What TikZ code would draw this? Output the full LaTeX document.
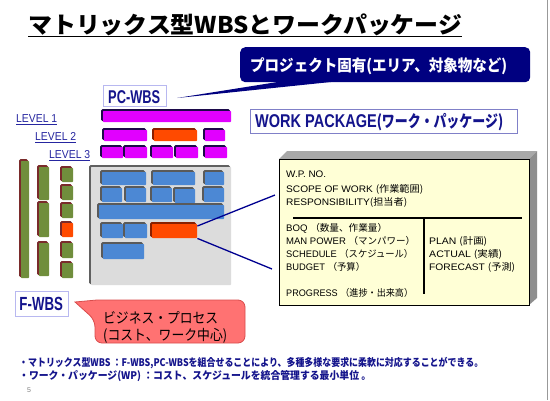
\documentclass[tikz,border=0pt]{standalone}
\usepackage{fontspec}
\usepackage{graphicx}
\setmainfont{Liberation Sans}
\newfontfamily\jpfont{Noto Sans CJK JP}
\newcommand\J[1]{{\jpfont #1}}
\newcommand\fs[1]{\fontsize{#1}{#1}\selectfont}
\newcommand\fitw[2]{\resizebox{#1}{\height}{#2}}
\definecolor{cnavy}{HTML}{000080}
\definecolor{tnavy}{HTML}{14148C}
\definecolor{lnavy}{HTML}{2626A0}
\definecolor{lbord}{HTML}{B8B8F0}
\definecolor{wpbord}{HTML}{8080C8}
\definecolor{mag}{HTML}{E100FF}
\definecolor{magsh}{HTML}{1C0A4A}
\definecolor{org}{HTML}{FF4A00}
\definecolor{orgsh}{HTML}{8A2000}
\definecolor{blu}{HTML}{4C88D4}
\definecolor{blush}{HTML}{5A5A5A}
\definecolor{grn}{HTML}{708E3C}
\definecolor{grnsh}{HTML}{7A2B2B}
\definecolor{panel}{HTML}{DCDCDC}
\definecolor{dgray}{HTML}{606060}
\definecolor{wpyellow}{HTML}{FFFFD6}
\definecolor{topgray}{HTML}{A8A8A8}
\definecolor{sidegray}{HTML}{8E8E8E}
\definecolor{cred}{HTML}{FF7272}
\definecolor{credb}{HTML}{D94C4C}
\definecolor{connavy}{HTML}{000090}
\newcommand\blk[6]{\fill[#2,rounded corners=1.5pt] (#3-2,#4-2) rectangle (#5-1,#6-1);\fill[#1,rounded corners=0.6pt] (#3,#4) rectangle (#5,#6);}
\begin{document}
\begin{tikzpicture}[x=1pt,y=-1pt,
  txt/.style={inner sep=0pt, anchor=base west},
  lbox/.style={draw=lbord, fill=white, line width=0.8pt, inner sep=0pt, anchor=north west}]
\useasboundingbox (0,0) rectangle (550,400);
\fill[white] (0,0) rectangle (550,400);
\draw[gray!80, line width=1pt] (547.5,0) -- (547.5,400);

% title
\node[txt] (title) at (28,33) {\jpfont\bfseries\fs{23}\fitw{434pt}{マトリックス型WBSとワークパッケージ}};
\draw[line width=1.4pt] ([yshift=-3.5pt]title.base west) -- ([yshift=-3.5pt]title.base east);

% blue callout
\fill[cnavy] (290,80) -- (177,98) -- (350,80) -- cycle;
\node[fill=cnavy, rounded corners=5pt, minimum width=290pt, minimum height=35pt, inner sep=0pt, anchor=north west] (pcnote) at (240,47) {};
\node[txt, text=white] (pcnotet) at (250,71) {\jpfont\bfseries\fs{16}\fitw{257pt}{プロジェクト固有(エリア、対象物など)}};

% PC-WBS
\node[lbox, minimum width=63pt, minimum height=21pt] (pcbox) at (103,85) {};
\node[txt, text=tnavy] (pct) at (108,103) {\bfseries\fs{18.5}\fitw{52pt}{PC-WBS}};

% WORK PACKAGE
\node[lbox, draw=wpbord, minimum width=267pt, minimum height=24pt] (wpbox) at (250,109) {};
\node[txt, text=tnavy] (wpt) at (255,127) {\bfseries\fs{18.5}\fitw{248pt}{WORK PACKAGE\J{\fs{16.5}(ワーク・パッケージ)}}};

% levels
\node[txt, text=lnavy] (lv1) at (16,122.7) {\fs{11.5}\fitw{41pt}{LEVEL 1}};
\node[txt, text=lnavy] (lv2) at (35,140.3) {\fs{11.5}\fitw{41pt}{LEVEL 2}};
\node[txt, text=lnavy] (lv3) at (49,158.3) {\fs{11.5}\fitw{41pt}{LEVEL 3}};
\foreach \n in {lv1,lv2,lv3}
  \draw[lnavy, line width=0.8pt] ([yshift=-2pt]\n.base west) -- ([yshift=-2pt]\n.base east);

% PC-WBS bars
\blk{mag}{magsh}{103}{111}{231}{122}
\blk{mag}{magsh}{104}{130}{147}{141}
\blk{org}{orgsh}{154}{130}{197}{141}
\blk{mag}{magsh}{205}{130}{225}{141}
\blk{mag}{magsh}{102}{147}{123}{158}
\blk{mag}{magsh}{125}{147}{147}{158}
\blk{mag}{magsh}{152}{147}{173}{158}
\blk{mag}{magsh}{176}{147}{198}{158}
\blk{mag}{magsh}{205}{147}{227}{158}

% F-WBS bars
\blk{grn}{grnsh}{21}{161}{29}{278}
\blk{grn}{grnsh}{39}{167}{49}{200}
\blk{grn}{grnsh}{39}{203}{49}{237}
\blk{grn}{grnsh}{39}{243}{49}{276}
\blk{grn}{grnsh}{62}{168}{73}{182}
\blk{grn}{grnsh}{62}{186}{73}{200}
\blk{grn}{grnsh}{62}{204}{73}{218}
\blk{org}{grnsh}{62}{223}{73}{237}
\blk{grn}{grnsh}{62}{243}{73}{258}
\blk{grn}{grnsh}{62}{263}{73}{278}

% matrix panel
\blk{panel}{dgray}{91}{167}{231}{285}
\blk{blu}{blush}{102}{172}{146}{185}
\blk{blu}{blush}{153}{172}{195}{185}
\blk{blu}{blush}{205}{172}{224}{185}
\blk{blu}{blush}{102}{188}{122}{202}
\blk{blu}{blush}{126}{188}{146}{202}
\blk{blu}{blush}{152}{188}{172}{202}
\blk{blu}{blush}{175}{189}{195}{203}
\blk{blu}{blush}{204}{188}{224}{202}
\blk{blu}{blush}{99}{205}{224}{219}
\blk{blu}{blush}{102}{224}{123}{238}
\blk{blu}{blush}{125}{224}{147}{238}
\blk{org}{orgsh}{152}{224}{197}{238}
\blk{blu}{blush}{103}{244}{144}{259}
\node[inner sep=0pt, minimum width=45pt, minimum height=14pt, anchor=north west] (cell) at (152,224) {};

% work package card
\fill[topgray] (279,159) -- (287,151) -- (537,151) -- (529,159) -- cycle;
\fill[sidegray] (529,159) -- (537,151) -- (537,298) -- (529,305) -- cycle;
\node[draw=black, fill=wpyellow, line width=0.8pt, minimum width=250pt, minimum height=146pt, anchor=north west, inner sep=0pt] (wp) at (279,159) {};
\draw[line width=1.1pt] (293,218) -- (522,218);
\draw[line width=1.1pt] (424,218) -- (424,294);
\node[txt] (wp1) at (286,177.7) {\fs{9.5}\fitw{40pt}{W.P. NO.}};
\node[txt] (wp2) at (286,192) {\fs{9.5}\fitw{137pt}{SCOPE OF WORK \J{(作業範囲)}}};
\node[txt] (wp3) at (286,205) {\fs{9.5}\fitw{121pt}{RESPONSIBILITY\J{(担当者)}}};
\node[txt] (wp4) at (286,231) {\fs{9.5}\fitw{101pt}{BOQ \J{（数量、作業量）}}};
\node[txt] (wp5) at (286,244) {\fs{9.5}\fitw{129pt}{MAN POWER \J{（マンパワー）}}};
\node[txt] (wp6) at (286,257.5) {\fs{9.5}\fitw{127pt}{SCHEDULE \J{（スケジュール）}}};
\node[txt] (wp7) at (286,270.5) {\fs{9.5}\fitw{79pt}{BUDGET \J{（予算）}}};
\node[txt] (wp8) at (286,296) {\fs{9.5}\fitw{127pt}{PROGRESS \J{（進捗・出来高）}}};
\node[txt] (wp9) at (429,244) {\fs{9.5}\fitw{58pt}{PLAN \J{(計画)}}};
\node[txt] (wp10) at (429,257.5) {\fs{9.5}\fitw{73pt}{ACTUAL \J{(実績)}}};
\node[txt] (wp11) at (429,270.5) {\fs{9.5}\fitw{86pt}{FORECAST \J{(予測)}}};

% connectors
\coordinate (wpa) at (275,195);
\coordinate (wpb) at (272,269);
\draw[connavy, line width=1.3pt] ([yshift=-2pt]cell.north east) -- (wpa);
\draw[connavy, line width=1.3pt] (cell.south east) -- (wpb);

% F-WBS
\node[lbox, minimum width=53pt, minimum height=25pt] (fbox) at (15,291) {};
\node[txt, text=tnavy] (ft) at (19.3,310.7) {\bfseries\fs{19}\fitw{43.4pt}{F-WBS}};

% red callout
\draw[fill=cred, draw=credb, line width=0.8pt] (75,302) -- (97,300) [rounded corners=7pt] -- (245,300) -- (245,343) -- (95,343) -- (95,320) [sharp corners] -- cycle;
\node[txt] (rl1) at (103,323) {\jpfont\fs{14.5}\fitw{115pt}{ビジネス・プロセス}};
\node[txt] (rl2) at (103,340) {\jpfont\fs{14.5}\fitw{124pt}{(コスト、ワーク中心)}};

% bottom notes
\node[txt, text=tnavy] (b1) at (19,366) {\jpfont\bfseries\fs{10.5}\fitw{464pt}{・マトリックス型WBS ：F-WBS,PC-WBSを組合せることにより、多種多様な要求に柔軟に対応することができる。}};
\node[txt, text=tnavy] (b2) at (19,379) {\jpfont\bfseries\fs{10.5}\fitw{352pt}{・ワーク・パッケージ(WP) ：コスト、スケジュールを統合管理する最小単位 。}};
\node[txt, text=gray] (pg) at (27,392) {\fs{7}5};
\end{tikzpicture}
\end{document}
